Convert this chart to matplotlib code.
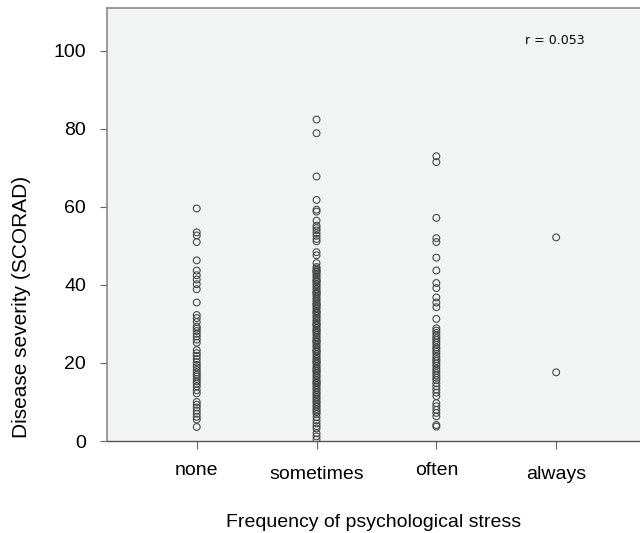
import matplotlib
matplotlib.use("Agg")
import matplotlib.pyplot as plt
import matplotlib.transforms as mtransforms

plt.rcParams['font.family'] = ['Liberation Sans', 'DejaVu Sans']

categories = ["none", "sometimes", "often", "always"]

none_vals = [59.6, 53.5, 52.7, 51.0, 46.3, 43.7, 42.5, 41.4, 40.2, 38.9, 35.5,
             32.3, 31.5, 30.5, 29.3, 28.8, 28.2, 27.5, 26.8, 26.0, 25.2, 23.3,
             22.5, 21.8, 21.0, 20.2, 19.5, 18.9, 18.2, 17.6, 17.0, 16.5, 15.9,
             15.3, 14.7, 14.0, 13.0, 12.2, 10.0, 9.3, 8.6, 7.8, 7.0, 6.2, 5.5, 3.6]

sometimes_vals = [82.4, 78.9, 67.8, 61.8, 59.3, 58.8, 56.5, 55.2, 54.6, 54.0,
                  53.3, 52.6, 51.8, 51.2, 48.4, 47.6, 45.6,
                  44.6, 44.2, 43.8, 43.4, 43.0, 42.5, 42.1, 41.6, 41.2, 40.8,
                  40.3, 39.9, 39.5, 39.0, 38.6, 38.2, 37.7, 37.3, 36.8, 36.4,
                  36.0, 35.5, 35.1, 34.6, 34.2, 33.8, 33.3, 32.9, 32.4, 32.0,
                  31.6, 31.1, 30.7, 30.2, 29.8, 29.4, 28.9, 28.5, 28.0, 27.6,
                  27.2, 26.7, 26.3, 25.8, 25.4, 25.0, 24.5, 24.1, 23.6, 23.2,
                  22.8, 22.3, 21.9, 21.4, 21.0, 20.6, 20.1, 19.7, 19.2, 18.8,
                  18.4, 17.9, 17.5, 17.0, 16.6, 16.2, 15.7, 15.3, 14.8, 14.4,
                  14.0, 13.5, 13.1, 12.6, 12.2, 11.8, 11.3, 10.9, 10.4, 10.0,
                  9.6, 9.1, 8.7, 8.2, 7.8, 7.4, 6.9,
                  43.5, 41.0, 38.0, 35.0, 33.0, 30.0, 28.3, 25.6, 23.0, 20.3,
                  18.0, 15.0,
                  6.1, 5.3, 4.5, 3.8, 3.2, 2.0, 1.2, 0.4]

often_vals = [73.0, 71.5, 57.2, 52.0, 51.0, 47.0, 43.7, 40.5, 39.2, 36.8, 35.5,
              34.3, 31.3, 28.9, 28.3, 27.7, 27.0, 26.4, 25.9, 25.3, 24.7, 24.0,
              23.5, 22.9, 22.3, 21.6, 21.0, 20.5, 19.9, 19.3, 18.6, 18.0, 17.4,
              16.8, 16.2, 15.6, 14.8, 14.0, 13.2, 12.4, 11.5, 9.7, 8.9, 8.0,
              7.2, 6.3, 4.1, 3.7]

always_vals = [52.2, 17.6]

series = [none_vals, sometimes_vals, often_vals, always_vals]
yticks = [0, 20, 40, 60, 80, 100]

fig = plt.figure(figsize=(6.4, 5.33), dpi=100)
ax = fig.add_axes([0.167, 0.1726, 0.833, 0.8124])
ax.set_facecolor("#f2f3f3")

for i, vals in enumerate(series):
    ax.scatter([i + 1] * len(vals), vals, s=24, facecolors="none",
               edgecolors="#4a4a4a", linewidths=0.8, zorder=3)

ax.set_xlim(0.25, 4.7)
ax.set_ylim(0, 111)
ax.set_yticks(yticks)
ax.set_xticks(range(1, len(categories) + 1))
ax.set_xticklabels(categories, fontsize=14)
ax.tick_params(axis="y", labelsize=14, length=5, color="#666666", pad=10)
ax.tick_params(axis="x", length=6, color="#666666", pad=9)

offset = mtransforms.ScaledTranslation(0, -4 / 100, fig.dpi_scale_trans)
for j, lab in enumerate(ax.get_xticklabels()):
    if j in (1, 3):
        lab.set_transform(lab.get_transform() + offset)

for side in ("left", "top"):
    ax.spines[side].set_color("#8a8a8a")
    ax.spines[side].set_linewidth(1.2)
ax.spines["bottom"].set_color("#555555")
ax.spines["bottom"].set_linewidth(1.0)
ax.spines["right"].set_visible(False)

ax.set_xlabel("Frequency of psychological stress", fontsize=14)
ax.xaxis.set_label_coords(0.5, -0.168)
ax.set_ylabel("Disease severity (SCORAD)", fontsize=15)
ax.yaxis.set_label_coords(-0.143, 0.31)

ax.text(0.84, 0.925, "r = 0.053", transform=ax.transAxes, fontsize=9,
        family=["DejaVu Sans"], ha="center", va="center")

fig.savefig("out.png", dpi=100, facecolor="white")
